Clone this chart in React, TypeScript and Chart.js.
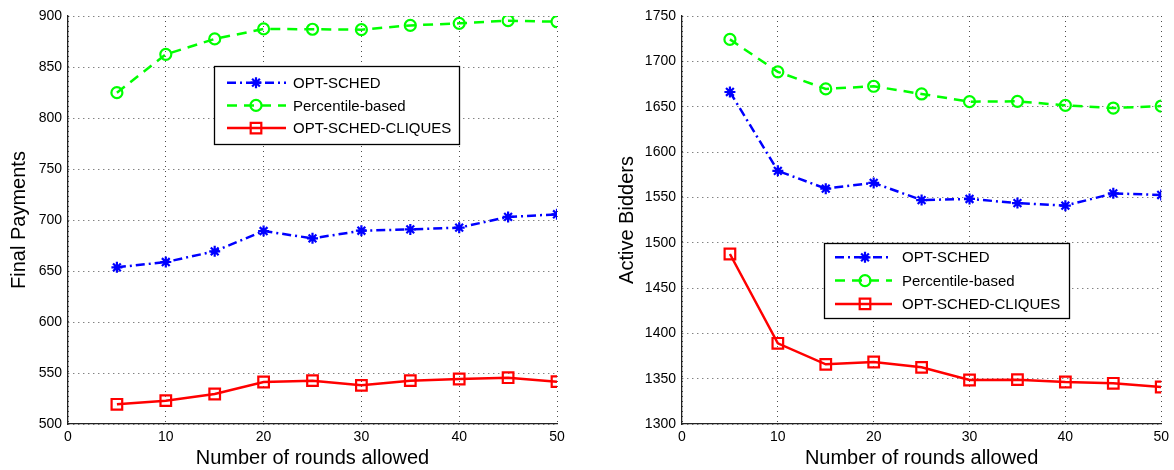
import React, { useEffect, useRef } from "react";
import { Chart, registerables } from "chart.js";

Chart.register(...registerables);

// ---- data ----
const ROUNDS = [5, 10, 15, 20, 25, 30, 35, 40, 45, 50];
const SERIES_NAMES = ["OPT-SCHED", "Percentile-based", "OPT-SCHED-CLIQUES"];

const PAY_OPT = [653.6, 658.8, 669.3, 689.2, 682, 689.5, 690.8, 692.5, 703, 705.6];
const PAY_PCT = [824.8, 862.4, 877.5, 887.3, 887, 886.6, 890.8, 892.8, 895.4, 894.4];
const PAY_CLQ = [519.3, 522.9, 529.4, 541.2, 542.5, 537.9, 542.5, 544.1, 545.4, 541.5];

const BID_OPT = [1666.2, 1579.2, 1559.6, 1565.9, 1547, 1548.2, 1543.7, 1540.8, 1554.4, 1552.6];
const BID_PCT = [1724.2, 1688.4, 1669.6, 1672.5, 1664, 1655.5, 1655.9, 1651.5, 1648.5, 1650.7];
const BID_CLQ = [1487.5, 1389, 1365.8, 1368.4, 1362.5, 1348.5, 1348.9, 1346.3, 1344.9, 1340.8];

const X_MIN = 0, X_MAX = 50, X_STEP = 10;
const PAY_Y = [500, 900, 50];
const BID_Y = [1300, 1750, 50];

const X_TITLE = "Number of rounds allowed";
const PAY_TITLE = "Final Payments";
const BID_TITLE = "Active Bidders";

// ---- styles ----
const FONT = "'Liberation Sans', Arial, Helvetica, sans-serif";
const STYLES = [
  { color: "#0000ff", dash: [9, 4, 2, 4], point: "star", radius: 5.5 },
  { color: "#00ff00", dash: [10, 7], point: "circle", radius: 5.5 },
  { color: "#ff0000", dash: [], point: "rect", radius: 7.5 },
];

function drawMarker(ctx: CanvasRenderingContext2D, style: string, x: number, y: number, r: number) {
  ctx.beginPath();
  if (style === "circle") {
    ctx.arc(x, y, r, 0, Math.PI * 2);
  } else if (style === "rect") {
    const s = r * Math.SQRT1_2;
    ctx.rect(x - s, y - s, 2 * s, 2 * s);
  } else {
    for (let k = 0; k < 4; k++) {
      const a = (k * Math.PI) / 4;
      ctx.moveTo(x - Math.cos(a) * r, y - Math.sin(a) * r);
      ctx.lineTo(x + Math.cos(a) * r, y + Math.sin(a) * r);
    }
  }
  ctx.stroke();
}

const insetLegend = {
  id: "insetLegend",
  afterDraw(chart: any, _args: any, o: any) {
    const { ctx, chartArea } = chart;
    const x0 = Math.round(chartArea.left + o.dx);
    const y0 = Math.round(chartArea.top + o.dy);
    ctx.save();
    ctx.fillStyle = "#ffffff";
    ctx.fillRect(x0, y0, o.w, o.h);
    ctx.strokeStyle = "#000";
    ctx.lineWidth = 1.3;
    ctx.strokeRect(x0 + 0.5, y0 + 0.5, o.w, o.h);
    chart.data.datasets.forEach((ds: any, i: number) => {
      const st = STYLES[i];
      const y = y0 + o.firstRow + i * o.rowGap;
      ctx.save();
      ctx.strokeStyle = st.color;
      ctx.lineWidth = 2.5;
      ctx.setLineDash(st.dash);
      ctx.beginPath();
      ctx.moveTo(x0 + o.lineStart, y);
      ctx.lineTo(x0 + o.lineEnd, y);
      ctx.stroke();
      ctx.setLineDash([]);
      ctx.lineWidth = 2.2;
      drawMarker(ctx, st.point, x0 + o.marker, y, st.radius);
      ctx.restore();
      ctx.fillStyle = "#000";
      ctx.font = `15px ${FONT}`;
      ctx.textBaseline = "middle";
      ctx.textAlign = "left";
      ctx.fillText(ds.label, x0 + o.text, y + 1);
    });
    ctx.restore();
  },
};

const plainTick = (v: any) => String(v);

function makeConfig(
  series: number[][],
  yRange: number[],
  yTitle: string,
  padLeft: number,
  yWidth: number,
  padRight: number,
  legend: any
): any {
  return {
    type: "line",
    data: {
      datasets: series.map((vals, i) => ({
        label: SERIES_NAMES[i],
        data: ROUNDS.map((x, j) => ({ x, y: vals[j] })),
        borderColor: STYLES[i].color,
        backgroundColor: "rgba(0,0,0,0)",
        borderWidth: 2.5,
        borderDash: STYLES[i].dash,
        pointStyle: STYLES[i].point,
        pointRadius: STYLES[i].radius,
        pointBorderWidth: 2.2,
        pointBorderColor: STYLES[i].color,
        pointBackgroundColor: "rgba(0,0,0,0)",
        tension: 0,
        fill: false,
      })),
    },
    options: {
      responsive: false,
      animation: false,
      events: [],
      layout: { padding: { left: padLeft, right: padRight, top: 16, bottom: 0 } },
      plugins: {
        legend: { display: false },
        tooltip: { enabled: false },
        insetLegend: legend,
      },
      scales: {
        x: {
          type: "linear",
          min: X_MIN,
          max: X_MAX,
          ticks: { stepSize: X_STEP, color: "#000", font: { family: FONT, size: 14 }, padding: 5, callback: plainTick },
          grid: { color: "rgba(0,0,0,0.7)", lineWidth: 1, drawTicks: false },
          border: { display: true, color: "#222", width: 1.3, dash: [1, 4] },
          title: { display: true, text: X_TITLE, color: "#000", font: { family: FONT, size: 20 }, padding: { top: 0, bottom: 0 } },
          afterFit: (s: any) => { s.height = 46; },
        },
        y: {
          type: "linear",
          min: yRange[0],
          max: yRange[1],
          ticks: { stepSize: yRange[2], color: "#000", font: { family: FONT, size: 14 }, padding: 6, callback: plainTick },
          grid: { color: "rgba(0,0,0,0.7)", lineWidth: 1, drawTicks: false },
          border: { display: true, color: "#222", width: 1.3, dash: [1, 4] },
          title: { display: true, text: yTitle, color: "#000", font: { family: FONT, size: 20 }, padding: { top: 4, bottom: 4 } },
          afterFit: (s: any) => { s.width = yWidth; },
        },
      },
    },
    plugins: [insetLegend],
  };
}

function ChartCanvas({ config, left }: { config: any; left: number }) {
  const ref = useRef<HTMLCanvasElement | null>(null);
  useEffect(() => {
    if (!ref.current) return;
    const chart = new Chart(ref.current, config);
    return () => chart.destroy();
  }, [config]);
  return (
    <canvas
      ref={ref}
      width={587}
      height={470}
      style={{ position: "absolute", left, top: 0, width: 587, height: 470 }}
    />
  );
}

const LEFT_CONFIG = makeConfig([PAY_OPT, PAY_PCT, PAY_CLQ], PAY_Y, PAY_TITLE, 3, 65, 30, {
  dx: 146, dy: 50, w: 245, h: 78, firstRow: 16.7, rowGap: 22.7,
  lineStart: 13, lineEnd: 72, marker: 42, text: 79,
});
const RIGHT_CONFIG = makeConfig([BID_OPT, BID_PCT, BID_CLQ], BID_Y, BID_TITLE, 24, 71, 10, {
  dx: 142, dy: 227, w: 245, h: 75, firstRow: 14.3, rowGap: 23.3,
  lineStart: 11, lineEnd: 68, marker: 41, text: 78,
});

export default function App() {
  return (
    <div style={{ position: "absolute", left: 0, top: 0, width: 1174, height: 470, background: "#fff" }}>
      <ChartCanvas config={LEFT_CONFIG} left={0} />
      <ChartCanvas config={RIGHT_CONFIG} left={587} />
    </div>
  );
}
